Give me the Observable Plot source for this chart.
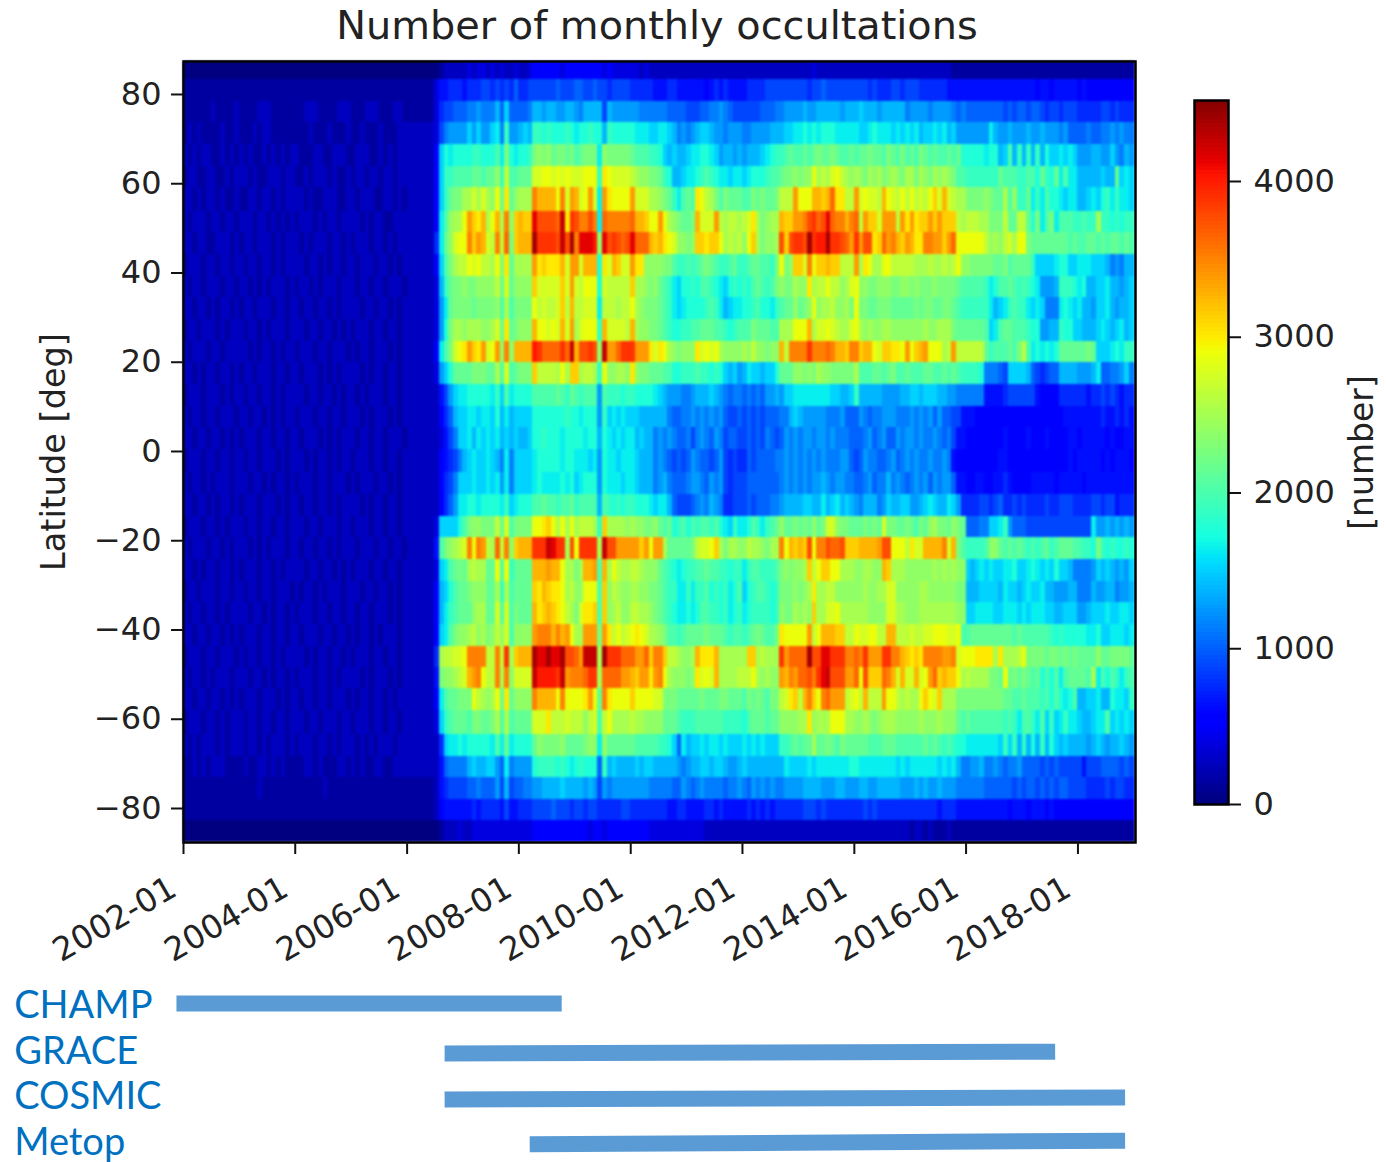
<!DOCTYPE html>
<html><head><meta charset="utf-8">
<script src="https://cdn.jsdelivr.net/npm/d3@7"></script>
<script src="https://cdn.jsdelivr.net/npm/@observablehq/plot@0.6"></script>
<style>
html,body{margin:0;padding:0;background:#fff;}
#page{position:relative;width:1386px;height:1162px;overflow:hidden;font-family:"DejaVu Sans",sans-serif;}
#page svg{position:absolute;background:transparent;overflow:visible;}
#title{position:absolute;left:157px;width:1000px;top:2px;text-align:center;font-size:39.8px;color:#222;line-height:46px;}
.heat g[aria-label="rect"]{filter:blur(.8px);}
</style></head><body><div id="page"><div id="title">Number of monthly occultations</div></div>
<script>
// Latitude edges of the 36 bands, top to bottom (deg)
const latEdges=[87.39,83.36,78.50,73.66,68.80,63.93,59.09,53.85,49.01,44.15,39.28,34.44,29.58,24.72,19.88,15.01,10.15,5.38,0.45,-4.64,-9.64,-14.50,-19.34,-24.20,-29.06,-33.90,-38.77,-43.63,-48.34,-53.18,-58.04,-63.41,-68.28,-73.12,-77.98,-82.69,-87.62];
// Occultation counts, in steps of 125 written in base 36.
// One string per latitude band, one 12-letter group per year 2002..2018.
const levelStep=125;
const bandLevels=[
"000000000000 000000000000 000000000000 000000000000 000000012222 232332323223 223444444344 444444343333 332322222222 222222222222 222222222222 222322222222 222222222222 222222222111 111111111111 111111111111 111111111111",
"111111111111 111111111111 111111111111 111111111111 111111355666 566677676768 667777778777 887787767777 666665556655 555545656555 566667777777 776778777777 777676667767 776666665555 555555555555 555455455555 454444444444",
"111111211112 111122211111 112221111222 111222111221 111111367788 899a999b8c88 889bbabbaabb a9bbbb7baaaa aa9999998888 7778899a9877 777788899aaa abaabbbbbabb bcbbbabbbbb9 aaaa9aaaa989 888888887878 878876776777 666667767666",
"121211112112 111212211111 111211121112 112111211122 222222379aaa acacaacd9faa bcbffefeeefe deefeebfeeee edddccddcb9a 9abccbaa9aaa 99aaaabbbccd dededeeedddd dccdedddcdcd cdbccdcdbcaa aaaaadbaabaa abaabaaa9a88 8898899a9a99",
"212122112121 212112121212 211122112221 122211212122 2222224cedee eeffeeegdied eefijijhiihi ghiiidjiiiii hgggffecbcbb cddeedcabbab abbbcdeffghg ghghihhihggh ghhihhgihgig hgihghgghghe eeeedeebcgbf bfbfbeccdcdc aaabbaaca9ba",
"122112211212 221211222122 112122212112 122122122122 2222224cffgg gghhghhjflgg hhhmmnnmnmnm mmnnnfonmmmm lkjjiihfebbc ddefgfeddcdd cdeeefgghiij ijjnklkmnlkj kjikjkijkjik kikjikjkjigg fffffffhgggf fggehfehdgdd bbbbbcbbhcdc",
"221212212112 112212212122 221211222112 212221122121 2222224cfhii kkmkmkjnhohj kkksqqqqnsmr qmnrmdronnnn rmmmkkjihfdg hgonlkigihhh ggihihhilllr nnnqqpqtooll rmnmmlqnmlnl nlmlnpmqmlkk iiiijihhkgjf fhdfdgeedcdd bbcdcefdfddc",
"212221221221 222122121212 122212122122 221212211222 2222224dgjkk nrpoqknqksjp qppxuuuutyov ussusdtsssss tqqpnnrnkjih hiqmmmrlkllk lmokijkkqppr rsuvtuxtssqs tlrppmrrrlro ropprprppplk lllkkiiilhhl lheidgidgggf fgffkffefeff",
"221221122212 122122212122 212122212212 122212212122 2222226dhjmn nsprqmlsltip qqqzvvvvuyuz sxxxwjxuvutu xtttqpqonmjj ijppoppnklkl jnpkijjkupuv vuzvwwzvvutr vruuoptrsqpr qoossrrprtnn nnnnljkjlmkn nihhhhhhhhgh gghhghghhghg",
"122212212212 212212212122 221221212212 212221221212 2222224cgikl lnmnllkniohk kkkropoooqmr rmqqqeomqpmm roojjjjiigff gfghihgffghf fghhggfinijp pmsnppqpplll rkonkknnllll lkkklkklklnj jiiiiihhighh hhfccccdeecc dddcccb9a9bb",
"212212221221 221212122212 122121222122 212212212221 2222223bfhii jiijjjjlhmhj jjjpmmmmmpmr mlnnnemlllll pkkjijhgfdce efeggfedcefe feghgfgijiik jjokllnlljkm njjiijjjiijj ijiiijiiiihg ggggfdegghgf gfedaaabfffe debbccdbbabc",
"221221212212 122122212212 212212212122 221221221212 2222223adhii iihiiiijgkgi iiinlmllmplq llmmmdlllkll nkjiiihgfdcd eeeefgfdbcdd eefgeedfghhj hijnjkkljjki niihhiiihhhh hihiihhiihgf fffffdbcdfgf fdcdc999dedc dbbaccdbabbc",
"122122212122 212212122212 221221221212 122212212212 2222223aeikk jkkkjjkmhohi jjjqnnmnmqmr kmnnnfqmmmml qkjjiihgfeef fgghhhggfefg ggihhhggkkkn nnqkmmnmlkkm nkjkjjkkjjjj jjjkjjkkkihh hhhhgcdghhgg gfeeaabbfeec cbbbcdcbcdbc",
"212221221222 221212212122 122212212221 212212221212 2222224dgimn orpormnrjsjq qqqwvttttvty quuvujyrrtvv vrrromonkjij jjomnmnkjjjj kjljjijjqlss ssvssstsqqps spqqnmppoonr npqrnnnklrll llllhfggghgi lgdededehhhh hhihcccdedff",
"221212212212 122122212212 212221212122 221212212212 2222223acehh hhiiihhkgmgh iiipllllknkp pkllkfnjjkkj ojiihhhggeef ffgffefecbca bdccbccehhhj jijikjjiiiii kggghhghiggh ggghhgghghgf fffe99987ccc cb876788bbbb aaabd8899ac9",
"122212221212 212212212122 221221221212 212122212212 222222257acd deeeeedfcgde eeeggggghgfh gfgggagfffef feeeedcbaaa9 9abbbcba9899 89898aabaccd dddddddccbbc fbbbbbaaaabb ccbcccbbaa99 999955556777 777544446666 665667676566",
"212212212221 221221212122 122212212212 221212221212 2222222468bc cddcddcebdbc ccceeeeeeefe edeeeafcdcdc ccbbbbbb9889 9a9a9a9a8778 7878788899bc baaaaa999a88 8a9899aaa999 a9a9a8a88775 554444444444 444444444555 555556556565",
"221221221212 122212212212 212221212122 212212212221 22222223579c cdbdcdcdbcbc bbceefeeedee eedeebedcdcd dbcbb9a9a988 979a98a97887 787879878a9a 9aa9aa9a9998 889a89a88a9a a9a99a989755 444444445444 454445444455 455555454455",
"122212212212 212212221212 221212212122 122212212212 222222245679 bcdccdcb9d9c cccdeeeeedee dddcdaeddcdd dcbbb9a98787 8a98878a7676 687888899a9a 9a9a9a999aa8 78a99889a89a 9a99a99a9544 444444455444 444444444454 555554545554",
"212212122212 221221212212 122212212221 212221221212 22222224679c ccdccdcdad9c cccdeddddede cdeeeaedddcd dcbbb9ab9888 9aa98a9a7677 788888889a9a 9a9aaba9aa99 889a899b9a98 9a9a8a9aa855 445544556544 445555545555 545555555555",
"221221212212 122212221212 212212212122 221212212212 2222222468ad deedeeeedfcd eeegghggfggh fggggbgfefef feeedcddb877 789a9ba96677 78788899abbb bccbbdbcdbcb a9bbb9acbbcc aabcdcbbdca6 666776786676 766667667776 666776775666",
"122212212122 212212212212 221221222122 122212212212 2222223cccce gijjiiilhmgi iiinnopnknkn klllkfpkkkkj kjjiijhghefg egfggfgedcfd degfdfghjhhi hihjhimmjiih hhihihmiihhi hgihjkiihjih 88899ccdfa88 877777777777 777daabababa",
"212221221212 221212122212 212212212122 212221221221 2222225gijkl msnsrlktlsjp qqqvvvyxvvku nvvvvkyuurrr rrprnrrkhhhh hilmmnpkikkj jlkkjikksnqp qpunssuttupp pqqqqruunnnl ommqqqqsmqig ffffgjjhghgh gfgfghfghhhg gffeifefeefe",
"221212212212 122212212122 221221221212 122212212212 2222223cdghi hklkkhhngnfh hhhqqqrqqnkk ikqqrgqknlkk llkjjjhgfede ffgghggffeff dfggfffgijij jkplnppnnkkk jjkkjjqpkkkj jjjjjkjkjkjj cbcdcdccddec cdedcdceccb9 999acbcbabac",
"122122212212 212212212221 212212122212 221221221212 2222224bcegh hijjjhhkfkgh hhhpoqpoonkl jjnnngpjlkjj kkjjiihgffdd fdffgefefdeg cefggfefiiij ijkokklljjjj jjkjjkkmmjjj jjkkjjjjjjii bbbccccbdccb cdccdbbaaabb 999baabb9aab",
"212212212122 221221212212 122212212212 212212221212 2222224bdfgh hhjkkhhmgmgi hhhqopqponlk imoopgpjkljj llkkjihgfedd edeggffefdef deffffefjiik jkjpkkmmnkkk kkkjjjjmmkkj jjkkkkkkkkjj ccddddccdddc dcdddccbbccc aabcccdccddc",
"221221221212 122212212212 212221221221 212212122212 2222224cdgij jkljkijljmgj jjjrsssqsqrn kkrrrirolnlm nonmkkjiggfg hhhhihhhgfgg fghihggionnn nnrlnqqqppll nmmnnllqqlll mllmmnnnmmng ghhhhhhhhhgh ggggggfefeee eeddeccdddcd",
"122212212221 212212212122 221212212212 122212212212 2222226kllmm nssssllslvkp qqqzxxzxxzuu tryyykzvvvtt trrtpsspllkj jkqoooqkkkkk kppklkkkvrtt ttzuuxxvvvss tsvrrrvvssqp opossssrrsmn nnooookokkkl niiiihiihihi hhhhjhhiiiih",
"212212122212 221221212212 122212212122 221212221212 2222225ijjkl mqrsnllsksjm mmmywwwwvyrs sstvvkttttrr qprrorsnkjjj ijomnmqkkkkl llnkjkjjrqsr ttusvxyuuurr tnuppptsqmqm mqmnrtpqppnk lkkkkiihnhih ihghegegdghh hhgkdgegfdfg",
"221221221212 122212221212 212212212221 212212212122 2222224dghhi iinlkjknhohj jjjsqqqqnsnn nnornhsonnnn pnnnnmmiiihh hhhihhhiihhh gihihgiilmop lqspnstrrrlm nlqlllrnnlkl kknpnmpkkkii iiiiiiiihhgg hgggfgegedeg bbccdbbeddcf",
"122212212122 212212212212 221221222122 122212212212 2222223cfghh hgiihhikgkgh hhhmmmolllml lljlmglnkkkk lkkjjjjhhhgf ffggggggffff eghhhghhjjjj kkojkkknnnkk jjkjijkkkjjj jjkjjjkjjjhg hgggggggfgfd ggfdgcfcdfdd cbbcddgcdcdc",
"212122212122 212212122212 122212212122 212121222122 22222226cdde deeeeedgdhde eeehjiiiijhh hhijjdjhhhhh hgggggffec8d bccdcddcdccc dcdcdcccffgh ghhkhhihgihh hhhggghhhggg ggghghgfgfee dddddddcfcfb fbebfbecbcbb bbabcbabbcba",
"112121222111 121122121211 112212111221 212112211222 222222258999 9bcbbcca8d9a aaaeffffefed efeee8fbcbbb bcbccbbbbba9 abbccbccbaab cbbbbbbbbdcc ccdcddddddde eddddddddcdc ddddddcdcdb9 9aab99a9899a 888878787777 757778888787",
"111111111111 111121111111 111111211111 111111111111 111111256777 7889888a7b78 899aabbbbcbb bbaba7a9aaaa aaaa9999988a 989a9999899a 98a9a9a99aaa abbbbaaabbaa abbaabbbbbaa ababaabaaa99 999988888878 788787878877 776666767766",
"111111111111 111111111111 111111111111 111111111111 111111245555 556566665755 666777787776 776776666677 666666665566 555566565555 565656566666 677767666666 667676666666 666666566655 555555555455 545554544444 444444444444",
"000000000000 000000000000 000000000000 000000000000 000000012223 223333333333 333444444444 444344344444 444433333333 333322222222 222222222222 222222222222 222222222222 122121112111 111111111111 111111111111 111111111111"
];
const firstYear=2002;
const xDomainEnd=new Date(Date.UTC(2019,0,12));
const yearTicks=[2002,2004,2006,2008,2010,2012,2014,2016,2018];
const latTicks=[-80,-60,-40,-20,0,20,40,60,80];
const countTicks=[0,1000,2000,3000,4000];
const colorMax=4520;
const missionNames=["CHAMP","GRACE","COSMIC","Metop"];
const missionStart=["2001-11-16","2006-09-03","2006-09-03","2008-03-12"];
const missionEnd=["2008-10-07","2017-08-05","2018-11-05","2018-11-05"];
const missionRowStart=[0,1.08,2.07,3.04];
const missionRowEnd=[0,1.04,2.03,2.96];
const missionLabelRow=[0.06,1.05,2.02,3];

// matplotlib "jet"
const chan=(d,r)=>d3.scaleLinear().domain(d).range(r).clamp(true);
const jR=chan([0,.35,.66,.89,1],[0,0,1,1,.5]),jG=chan([0,.125,.375,.64,.91,1],[0,0,1,1,0,0]),jB=chan([0,.11,.34,.65,1],[.5,1,1,0,0]);
const jet=t=>`rgb(${Math.round(255*jR(t))},${Math.round(255*jG(t))},${Math.round(255*jB(t))})`;
const colorScale={type:"linear",domain:[0,colorMax],interpolate:t=>jet(t)};

const cells=[];
bandLevels.forEach((row,r)=>{
  row.split(" ").forEach((grp,yi)=>{
    const g=grp.padEnd(12,grp[grp.length-1]).slice(0,12);
    for(let mi=0;mi<12;mi++){
      const y=firstYear+yi;
      const x1=new Date(Date.UTC(y,mi,1));
      let x2=new Date(Date.UTC(y,mi+1,1));
      if(y===2018&&mi===11)x2=xDomainEnd;
      cells.push({x1,x2,y1:latEdges[r],y2:latEdges[r+1],v:parseInt(g[mi],36)*levelStep});
    }
  });
});
const xDomain=[new Date(Date.UTC(2002,0,1)),xDomainEnd];
const fmtLat=d=>String(d).replace("-","\u2212");
const yearDates=yearTicks.map(y=>new Date(Date.UTC(y,0,1)));
const main=Plot.plot({
  width:1150,height:960,marginLeft:183,marginRight:15,marginTop:61,marginBottom:118,
  className:"heat",
  style:{fontFamily:"DejaVu Sans",fontSize:"32px",color:"#222",background:"transparent"},
  x:{type:"utc",domain:xDomain,axis:null},
  y:{domain:[latEdges[36],latEdges[0]]},
  color:colorScale,
  marks:[
    Plot.rect(cells,{x1:"x1",x2:"x2",y1:"y1",y2:"y2",fill:"v",shapeRendering:"crispEdges"}),
    Plot.frame({stroke:"black",strokeWidth:2.5}),
    Plot.axisX({ticks:yearDates,tickSize:12,text:null,label:null,strokeWidth:2,stroke:"#111"}),
    Plot.text(yearDates,{x:d=>d,frameAnchor:"bottom",text:d3.utcFormat("%Y-%m"),rotate:-30,textAnchor:"end",lineAnchor:"middle",dx:-10,dy:43,fontSize:32.5,fill:"#222"}),
    Plot.axisY({ticks:latTicks,tickFormat:fmtLat,tickSize:12,tickPadding:10,label:null,fontSize:32,strokeWidth:2,stroke:"#111",fill:"#222"}),
    Plot.text(["Latitude [deg]"],{frameAnchor:"left",rotate:-90,textAnchor:"middle",dx:-129,fontSize:33.5,fill:"#222"})
  ]
});
main.style.left="0";main.style.top="0";
document.getElementById("page").appendChild(main);

const levels=d3.range(0,colorMax,colorMax/180);
const bar=Plot.plot({
  width:236,height:850,marginLeft:44,marginRight:158,marginTop:100,marginBottom:46,
  style:{fontFamily:"DejaVu Sans",fontSize:"32px",color:"#222",background:"transparent"},
  x:{domain:[0,1],axis:null},
  y:{domain:[0,colorMax]},
  color:colorScale,
  marks:[
    Plot.rect(levels,{x1:0,x2:1,y1:d=>d,y2:d=>d+colorMax/180,fill:d=>d,shapeRendering:"crispEdges"}),
    Plot.frame({stroke:"black",strokeWidth:2.5}),
    Plot.axisY({anchor:"right",ticks:countTicks,tickSize:12,tickPadding:13,tickFormat:d=>String(d),label:null,fontSize:32,strokeWidth:2,stroke:"#111",fill:"#222"}),
    Plot.text(["[number]"],{frameAnchor:"right",rotate:-90,textAnchor:"middle",dx:134,fontSize:33,fill:"#222"})
  ]
});
bar.style.left="1150px";bar.style.top="0";
document.getElementById("page").appendChild(bar);

const missions=missionNames.map((name,i)=>({name,x1:new Date(missionStart[i]),x2:new Date(missionEnd[i]),y1:missionRowStart[i],y2:missionRowEnd[i],ly:missionLabelRow[i]}));
const labelX=new Date("1998-12-22");
const lower=Plot.plot({
  width:1386,height:202,marginLeft:183,marginRight:251,marginTop:43,marginBottom:20,
  style:{background:"transparent"},
  x:{type:"utc",domain:xDomain,axis:null},
  y:{domain:[3,0],axis:null},
  marks:[
    Plot.link(missions,{x1:"x1",x2:"x2",y1:"y1",y2:"y2",stroke:"#5b9bd5",strokeWidth:16,strokeLinecap:"butt"}),
    Plot.text(missions,{x:()=>labelX,y:"ly",text:"name",textAnchor:"start",fill:"#0070c0",fontSize:38,fontFamily:"'Comic Sans MS',Lato,sans-serif"})
  ]
});
lower.style.left="0";lower.style.top="960px";
document.getElementById("page").appendChild(lower);
</script></body></html>
